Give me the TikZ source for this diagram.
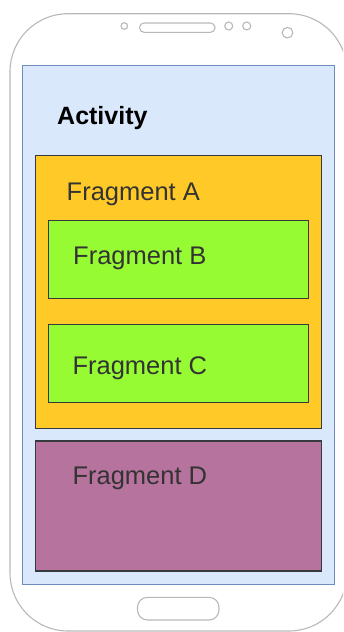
\documentclass[tikz,border=0pt]{standalone}
\usepackage{fontspec}
\setmainfont{Liberation Sans}
\begin{document}
\begin{tikzpicture}[x=1pt,y=-1pt,
  phoneline/.style={draw=phonegray,line width=1.1pt},
  frame/.style={draw=boxline,line width=1.1pt,inner sep=0pt},
  label/.style={anchor=base west,inner sep=0pt,font=\fontsize{25.5}{30}\selectfont,text=labeltext}]
\definecolor{phonegray}{HTML}{B8B8B8}
\definecolor{boxline}{HTML}{36393D}
\definecolor{labeltext}{HTML}{333333}
\definecolor{screenfill}{HTML}{DAE8FC}
\definecolor{screenline}{HTML}{6C8EBF}
\definecolor{fragorange}{HTML}{FFCA28}
\definecolor{fraggreen}{HTML}{96FB33}
\definecolor{fragpurple}{HTML}{B5739D}
\useasboundingbox (0,0) rectangle (343,632);
\begin{scope}
\clip (0,0) rectangle (343,632);
% phone body
\draw[phoneline,rounded corners=58pt] (10,13.7) rectangle (347,631);
% earpiece, sensors and camera
\draw[phoneline] (124.3,26) circle (3.3pt);
\draw[phoneline,rounded corners=4.5pt] (139.5,23) rectangle (215,32.3);
\draw[phoneline] (228.7,26) circle (4pt);
\draw[phoneline] (246.7,26) circle (4pt);
\draw[phoneline] (287.5,32.7) circle (5.3pt);
% home button
\draw[phoneline,rounded corners=10pt] (137.5,597.3) rectangle (219,620);
\end{scope}
% screen and fragments
\node[draw=screenline,fill=screenfill,line width=1.1pt,inner sep=0pt,
  minimum width=311.3pt,minimum height=518.7pt] (screen) at (178.4,324.7) {};
\node[frame,fill=fragorange,minimum width=285.8pt,minimum height=273pt] (fa) at (178.4,292.2) {};
\node[frame,fill=fraggreen,minimum width=259.8pt,minimum height=78pt] (fb) at (178.4,259.5) {};
\node[frame,fill=fraggreen,minimum width=259.8pt,minimum height=78pt] (fc) at (178.4,363.6) {};
\node[frame,fill=fragpurple,minimum width=285.8pt,minimum height=130pt] (fd) at (178.4,506) {};
% labels
\node[anchor=base west,inner sep=0pt,font=\fontsize{25}{30}\selectfont\bfseries] (tact) at (57,124) {Activity};
\node[label] (ta) at (66.5,200) {Fragment A};
\node[label] (tb) at (73,264.5) {Fragment B};
\node[label] (tc) at (72.3,374.3) {Fragment C};
\node[label] (td) at (72.3,484.3) {Fragment D};
\end{tikzpicture}
\end{document}
